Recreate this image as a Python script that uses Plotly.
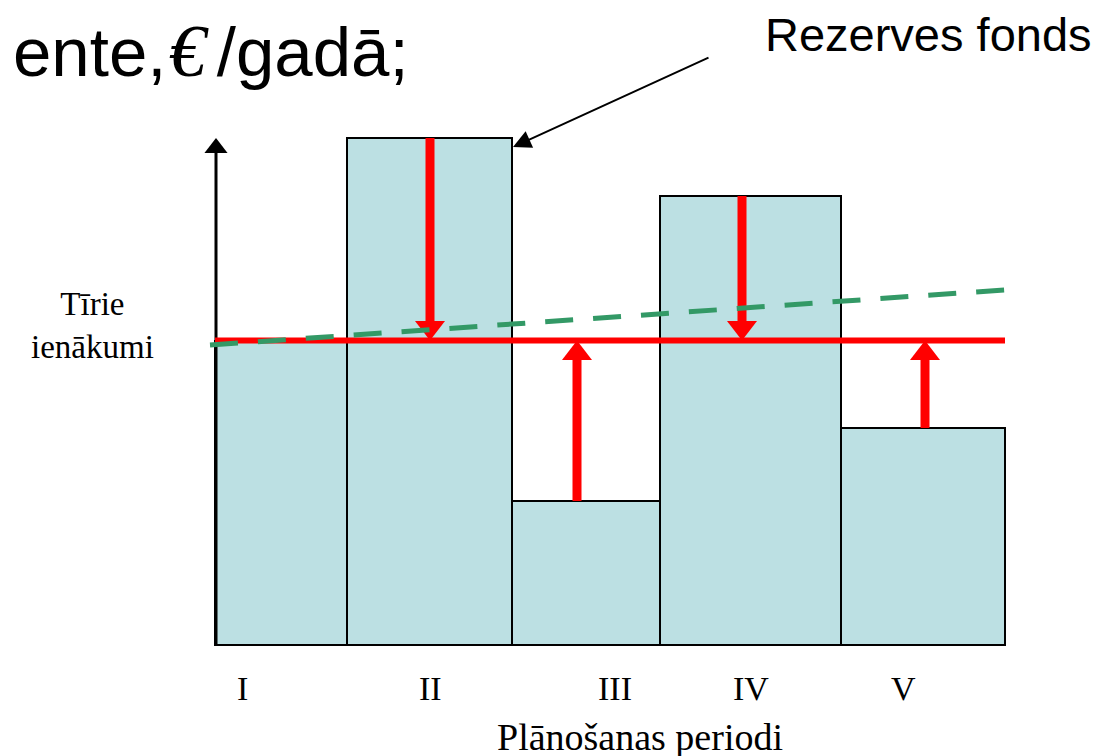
import numpy as np
import plotly.graph_objects as go

# planning periods: width of each period and net income (bar height)
periods = ["I", "II", "III", "IV", "V"]
period_widths = [13.2, 16.5, 14.8, 18.1, 16.4]
net_income = [30.4, 50.7, 14.4, 44.9, 21.7]
avg_level = 30.45                      # levelled income (red line)
trend_x = [-0.5, 80.3]                 # growing trend (green dashed)
trend_y = [30.0, 35.6]
arrow_x = [21.5, 36.2, 52.7, 71.0]     # reserve fund flows, periods II..V
arrow_from = [50.7, 14.4, 44.9, 21.7]
label_x = [2.7, 21.5, 40.0, 53.6, 68.8]

edges = np.concatenate([[0], np.cumsum(period_widths)])
centers = (edges[:-1] + edges[1:]) / 2
total = edges[-1]

BAR = "#BCE0E3"
RED = "#FF0000"
GREEN = "#339966"
SERIF = "Liberation Serif, Times New Roman, serif"
SANS = "Liberation Sans, Arial, sans-serif"
head = 1.3  # arrowhead offset (r of the triangle marker, in data units)

fig = go.Figure()

fig.add_trace(go.Bar(
    x=centers, y=net_income, width=period_widths, base=0,
    marker=dict(color=BAR, line=dict(color="black", width=2)),
    showlegend=False, hoverinfo="skip"
))

# vertical axis with arrowhead
fig.add_trace(go.Scatter(
    x=[0.1, 0.1], y=[0, max(net_income) - 1.0], mode="lines",
    line=dict(color="black", width=3), showlegend=False, hoverinfo="skip"
))
fig.add_trace(go.Scatter(
    x=[0.1], y=[max(net_income) - 1.0], mode="markers",
    marker=dict(symbol="triangle-up", size=20, color="black", line=dict(width=0)),
    showlegend=False, hoverinfo="skip"
))

# levelled income
fig.add_trace(go.Scatter(
    x=[0, total], y=[avg_level, avg_level], mode="lines",
    line=dict(color=RED, width=6), showlegend=False, hoverinfo="skip"
))

# red arrows towards the levelled income
for xa, y0 in zip(arrow_x, arrow_from):
    down = y0 > avg_level
    yc = avg_level + head if down else avg_level - head
    fig.add_trace(go.Scatter(
        x=[xa, xa], y=[y0, yc], mode="lines",
        line=dict(color=RED, width=9), showlegend=False, hoverinfo="skip"
    ))
    fig.add_trace(go.Scatter(
        x=[xa], y=[yc], mode="markers",
        marker=dict(symbol="triangle-down" if down else "triangle-up", size=26,
                    color=RED, line=dict(width=0)),
        showlegend=False, hoverinfo="skip"
    ))

# trend line
fig.add_trace(go.Scatter(
    x=trend_x, y=trend_y, mode="lines",
    line=dict(color=GREEN, width=5, dash="28px,20px"),
    showlegend=False, hoverinfo="skip"
))

W, H = 1099, 756


def px(x, y):
    # page pixel -> paper coords (the page has an 8px body margin)
    return (x - 8) / W, 1 - (y - 8) / H


annotations = []
for lx, lab in zip(label_x, periods):
    annotations.append(dict(x=lx, y=-4.3, text=lab, showarrow=False,
                            xanchor="center", yanchor="middle",
                            font=dict(family=SERIF, size=34, color="black")))

title_txt = ('ente,<span style="font-size:8px">\u00a0</span>'
             '<span style="font-family:\'Liberation Serif\';font-size:74px;font-style:italic">'
             '<i>€</i></span><span style="font-size:40px">\u00a0</span>/gadā;')
for (x, y), txt, xa, size, fam in [
    ((92, 325), "Tīrie<br>ienākumi", "center", 33, SERIF),
    ((640, 737), "Plānošanas periodi", "center", 38, SERIF),
    ((411, 51), title_txt, "right", 69, SANS),
    ((763, 35), "Rezerves fonds", "left", 47, SANS),
]:
    px_x, px_y = px(x, y)
    annotations.append(dict(x=px_x, y=px_y, xref="paper", yref="paper",
                            xanchor=xa, yanchor="middle", text=txt, showarrow=False,
                            font=dict(family=fam, size=size, color="black")))

annotations.append(dict(x=edges[2] + 0.1, y=net_income[1] - 0.9, ax=49.5, ay=58.8,
                        axref="x", ayref="y", text="", showarrow=True,
                        arrowhead=2, arrowsize=1.8, arrowwidth=2, arrowcolor="black"))

fig.update_layout(
    width=W, height=H,
    margin=dict(l=0, r=0, t=0, b=0),
    plot_bgcolor="white", paper_bgcolor="white",
    xaxis=dict(range=[-20.7, 89.2], visible=False, fixedrange=True),
    yaxis=dict(range=[-11.9, 63.7], visible=False, fixedrange=True),
    annotations=annotations,
    bargap=0,
)

fig.write_html("out.html")
